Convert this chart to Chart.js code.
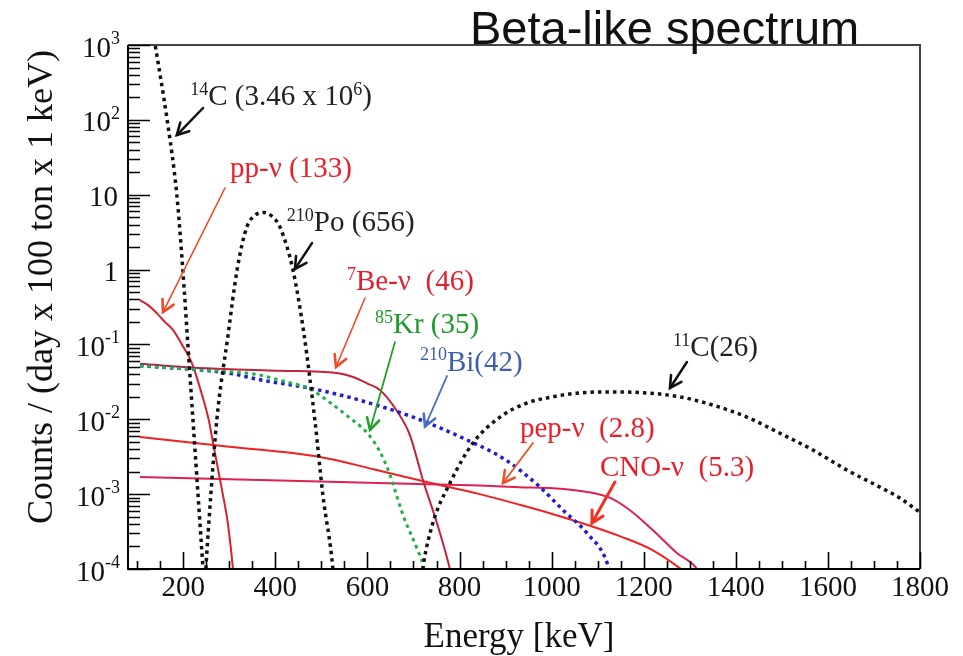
<!DOCTYPE html>
<html>
<head>
<meta charset="utf-8">
<script src="https://cdn.jsdelivr.net/npm/chart.js@4.4.1/dist/chart.umd.min.js"></script>
<style>
  body { margin: 0; background: #fff; }
  canvas { display: block; }
</style>
</head>
<body>
<canvas id="spectrum" width="963" height="656"></canvas>
<script>
// spectra: energy in keV, counts per day per 100 t per keV
const c14Energy = [118, 139, 165, 186, 199, 210, 221, 232, 243, 254];
const c14Counts = [6000, 1000, 100, 10, 1, 0.1, 0.01, 1e-3, 1e-4, 1e-5];

const po210Energy = [240, 249, 260, 273, 297, 317, 338, 356, 373, 392, 410, 438, 462, 486, 503, 525, 537];
const po210Counts = [1e-5, 1e-4, 1e-3, 0.01, 0.13, 1, 3.7, 5.3, 5.8, 5.2, 3.7, 1, 0.14, 0.0095, 1e-3, 1e-4, 1e-5];

const ppEnergy = [106, 125, 143, 160, 178, 197, 219, 240, 255, 265, 284, 297, 308, 318];
const ppCounts = [0.39, 0.33, 0.26, 0.2, 0.155, 0.1, 0.056, 0.022, 0.01, 0.0047, 1.15e-3, 4e-4, 1e-4, 2e-5];

const be7Energy = [106, 250, 410, 534, 569, 600, 627, 664, 692, 721, 751, 779, 792];
const be7Counts = [0.055, 0.048, 0.0445, 0.0415, 0.0367, 0.03, 0.0246, 0.0129, 0.0062, 1.5e-3, 4.1e-4, 1e-4, 4e-5];

const kr85Energy = [106, 250, 356, 420, 475, 520, 556, 599, 627, 649, 677, 708, 721, 732];
const kr85Counts = [0.052, 0.045, 0.040, 0.032, 0.0254, 0.0165, 0.0111, 0.0066, 0.0037, 0.0018, 5.3e-4, 1.85e-4, 1.13e-4, 5e-5];

const bi210Energy = [106, 297, 369, 471, 556, 586, 699, 816, 899, 975, 1025, 1077, 1122, 1135];
const bi210Counts = [0.052, 0.0415, 0.0335, 0.0263, 0.020, 0.0178, 0.0107, 0.0053, 0.0029, 0.00124, 6.1e-4, 3.0e-4, 1.13e-4, 5e-5];

const c11Energy = [700, 721, 742, 779, 829, 888, 946, 990, 1061, 1133, 1207, 1279, 1350, 1424, 1496, 1567, 1641, 1713, 1756, 1800];
const c11Counts = [1e-5, 1.1e-4, 4.1e-4, 1.4e-3, 4.8e-3, 0.0107, 0.0165, 0.0193, 0.0225, 0.0232, 0.0225, 0.0199, 0.0155, 0.0107, 0.0065, 0.0039, 0.0021, 0.00124, 8.9e-4, 5.7e-4];

const pepEnergy = [106, 497, 844, 931, 1003, 1077, 1127, 1170, 1220, 1272, 1316, 1335];
const pepCounts = [1.7e-3, 1.47e-3, 1.3e-3, 1.24e-3, 1.2e-3, 1.07e-3, 8.9e-4, 6.1e-4, 3.3e-4, 1.64e-4, 1.0e-4, 6e-5];

const cnoEnergy = [106, 300, 497, 620, 729, 844, 931, 1003, 1077, 1148, 1220, 1279, 1300];
const cnoCounts = [5.8e-3, 4.3e-3, 3.13e-3, 2.1e-3, 1.45e-3, 1.0e-3, 7.2e-4, 5.4e-4, 3.9e-4, 2.75e-4, 1.78e-4, 1.02e-4, 8e-5];

const xTickValues = [200, 400, 600, 800, 1000, 1200, 1400, 1600, 1800];
const yTickValues = [1e-4, 1e-3, 1e-2, 1e-1, 1, 10, 1e2, 1e3];
const yTickLabels = ['10^-4', '10^-3', '10^-2', '10^-1', '1', '10', '10^2', '10^3'];

const SERIF = '"Liberation Serif", "Times New Roman", serif';

function points(xs, ys) {
  return xs.map((x, i) => ({ x: x, y: ys[i] }));
}

function solid(label, xs, ys, color) {
  return {
    label: label, data: points(xs, ys), borderColor: color,
    borderWidth: 2, pointRadius: 0, cubicInterpolationMode: 'monotone', fill: false
  };
}

function dotted(label, xs, ys, color, width) {
  return {
    label: label, data: points(xs, ys), borderColor: color,
    borderWidth: width, borderDash: [3.5, 4], borderCapStyle: 'butt',
    pointRadius: 0, cubicInterpolationMode: 'monotone', fill: false
  };
}

// labels with arrows, placed in data units [keV, counts]
const notes = [
  { text: ['^14', 'C (3.46 x 10', '^6', ')'], color: '#222', at: [215, 158], from: [243, 144], to: [186, 62.7], arrow: '#111', w: 2.5 },
  { text: ['pp-ν (133)'], color: '#e8202a', at: [301.5, 17.2], from: [290.6, 12.3], to: [156, 0.271], arrow: '#f04828', w: 1.6 },
  { text: ['^210', 'Po (656)'], color: '#222', at: [425, 3.27], from: [479.6, 2.26], to: [442.6, 1.02], arrow: '#111', w: 2.5 },
  { text: ['^7', 'Be-ν  (46)'], color: '#e0202e', at: [555.6, 0.533], from: [594.7, 0.417], to: [531.7, 0.0499], arrow: '#f04828', w: 1.6 },
  { text: ['^85', 'Kr (35)'], color: '#1e9a2a', at: [616.4, 0.142], from: [659.8, 0.1076], to: [605.5, 7.19e-3], arrow: '#22a02a', w: 1.8 },
  { text: ['^210', 'Bi(42)'], color: '#3f5fae', at: [714, 0.0445], from: [772.7, 0.0378], to: [724.9, 8.0e-3], arrow: '#4a6fc4', w: 1.8 },
  { text: ['^11', 'C(26)'], color: '#222', at: [1263.5, 0.070], from: [1293.9, 0.0582], to: [1257, 0.0262], arrow: '#111', w: 2.5 },
  { text: ['pep-ν  (2.8)'], color: '#e8202a', at: [931.2, 5.8e-3], from: [959.5, 4.82e-3], to: [894.3, 1.41e-3], arrow: '#f05028', w: 1.8 },
  { text: ['CNO-ν  (5.3)'], color: '#e8202a', at: [1105, 1.75e-3], from: [1137.5, 1.45e-3], to: [1087.6, 4.11e-4], arrow: '#f03020', w: 3 }
];

function drawRich(ctx, x, y, parts, size, color) {
  ctx.fillStyle = color;
  ctx.textAlign = 'left';
  ctx.textBaseline = 'alphabetic';
  let cx = x;
  parts.forEach(p => {
    const sup = p[0] === '^';
    const t = sup ? p.slice(1) : p;
    ctx.font = (sup ? Math.round(size * 0.62) : size) + 'px ' + SERIF;
    ctx.fillText(t, cx, sup ? y - size * 0.36 : y);
    cx += ctx.measureText(t).width;
  });
}

function arrow(ctx, x1, y1, x2, y2, color, w) {
  const a = Math.atan2(y2 - y1, x2 - x1), h = 13;
  ctx.strokeStyle = color;
  ctx.lineWidth = w;
  ctx.lineCap = 'round';
  ctx.beginPath();
  ctx.moveTo(x1, y1);
  ctx.lineTo(x2, y2);
  ctx.stroke();
  ctx.lineWidth = Math.max(w, 2.6);
  ctx.beginPath();
  ctx.moveTo(x2 - h * Math.cos(a - 0.5), y2 - h * Math.sin(a - 0.5));
  ctx.lineTo(x2, y2);
  ctx.lineTo(x2 - h * Math.cos(a + 0.5), y2 - h * Math.sin(a + 0.5));
  ctx.stroke();
}

const decorations = {
  id: 'decorations',
  afterDatasetsDraw(chart) {
    const ctx = chart.ctx;
    const area = chart.chartArea;
    const xs = chart.scales.x, ys = chart.scales.y;
    ctx.save();

    // frame
    ctx.lineWidth = 2;
    ctx.strokeStyle = '#444';
    ctx.beginPath();
    ctx.moveTo(area.left, area.top);
    ctx.lineTo(area.right, area.top);
    ctx.lineTo(area.right, area.bottom);
    ctx.stroke();
    ctx.strokeStyle = '#000';
    ctx.beginPath();
    ctx.moveTo(area.left, area.top);
    ctx.lineTo(area.left, area.bottom);
    ctx.lineTo(area.right, area.bottom);
    ctx.stroke();

    // inner ticks
    ctx.lineWidth = 1.6;
    ctx.beginPath();
    for (let e = 100; e <= 1800; e += 50) {
      const px = Math.round(xs.getPixelForValue(e)) + 0.5;
      const len = e % 200 === 0 ? 17 : 8;
      ctx.moveTo(px, area.bottom);
      ctx.lineTo(px, area.bottom - len);
    }
    for (let d = -4; d <= 3; d++) {
      for (let k = 1; k <= 9; k++) {
        const v = k * Math.pow(10, d);
        if (v > 1e3 * 1.0001) break;
        const py = Math.round(ys.getPixelForValue(v)) + 0.5;
        ctx.moveTo(area.left, py);
        ctx.lineTo(area.left + (k === 1 ? 22 : 12), py);
      }
    }
    ctx.stroke();

    // y tick labels with exponents
    ctx.fillStyle = '#111';
    yTickValues.forEach((v, i) => {
      const py = ys.getPixelForValue(v);
      const parts = yTickLabels[i].split('^');
      const right = 120;
      ctx.textBaseline = 'middle';
      ctx.textAlign = 'right';
      if (parts.length === 2) {
        ctx.font = '18px ' + SERIF;
        const ew = ctx.measureText(parts[1]).width;
        ctx.fillText(parts[1], right, py - 6);
        ctx.font = '29px ' + SERIF;
        ctx.fillText(parts[0], right - ew, py + 4);
      } else {
        ctx.font = '29px ' + SERIF;
        ctx.fillText(parts[0], right - 2, py + 4);
      }
    });

    // axis titles
    ctx.fillStyle = '#111';
    ctx.font = '35px ' + SERIF;
    ctx.textAlign = 'center';
    ctx.textBaseline = 'alphabetic';
    ctx.fillText('Energy [keV]', 519, 647);
    ctx.font = '36px ' + SERIF;
    ctx.save();
    ctx.translate(52, 287);
    ctx.rotate(-Math.PI / 2);
    ctx.fillText('Counts / (day x 100 ton x 1 keV)', 0, 0);
    ctx.restore();

    // annotations
    notes.forEach(n => {
      drawRich(ctx, xs.getPixelForValue(n.at[0]), ys.getPixelForValue(n.at[1]), n.text, 29, n.color);
      arrow(ctx, xs.getPixelForValue(n.from[0]), ys.getPixelForValue(n.from[1]),
        xs.getPixelForValue(n.to[0]), ys.getPixelForValue(n.to[1]), n.arrow, n.w);
    });

    // title
    ctx.fillStyle = '#111';
    ctx.font = '47px "Liberation Sans", Arial, sans-serif';
    ctx.textAlign = 'left';
    ctx.textBaseline = 'alphabetic';
    ctx.fillText('Beta-like spectrum', 470, 44);
    ctx.restore();
  }
};

const ctx = document.getElementById('spectrum').getContext('2d');
const chart = new Chart(ctx, {
  type: 'line',
  data: {
    datasets: [
      dotted('14C', c14Energy, c14Counts, '#111', 3.5),
      dotted('210Po', po210Energy, po210Counts, '#111', 3.5),
      dotted('11C', c11Energy, c11Counts, '#1a1010', 3.5),
      dotted('85Kr', kr85Energy, kr85Counts, '#22b04a', 3),
      dotted('210Bi', bi210Energy, bi210Counts, '#2020d0', 3.5),
      solid('pp', ppEnergy, ppCounts, '#d82030'),
      solid('7Be', be7Energy, be7Counts, '#c8203c'),
      solid('pep', pepEnergy, pepCounts, '#e02050'),
      solid('CNO', cnoEnergy, cnoCounts, '#ee2222')
    ]
  },
  options: {
    responsive: false,
    animation: false,
    layout: { padding: { left: 0, right: 43, top: 45, bottom: 0 } },
    plugins: {
      legend: { display: false },
      tooltip: { enabled: false },
      title: { display: false }
    },
    scales: {
      x: {
        type: 'linear',
        min: 80,
        max: 1800,
        grid: { display: false, drawTicks: false },
        border: { display: false },
        afterBuildTicks: scale => { scale.ticks = xTickValues.map(v => ({ value: v })); },
        afterFit: scale => { scale.height = 87; },
        ticks: {
          autoSkip: false,
          maxRotation: 0,
          padding: 2,
          color: '#111',
          font: { family: SERIF, size: 29 },
          callback: v => String(v)
        }
      },
      y: {
        type: 'logarithmic',
        min: 1e-4,
        max: 1e3,
        grid: { display: false, drawTicks: false },
        border: { display: false },
        ticks: { display: false },
        afterFit: scale => { scale.width = 128; }
      }
    }
  },
  plugins: [decorations]
});
</script>
</body>
</html>
